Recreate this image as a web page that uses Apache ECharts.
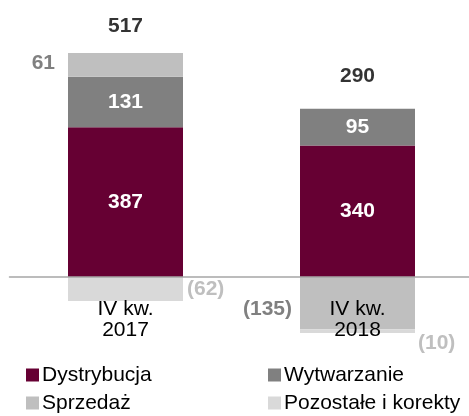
<!DOCTYPE html>
<html>
<head>
<meta charset="utf-8">
<script src="https://cdn.jsdelivr.net/npm/echarts@6/dist/echarts.min.js"></script>
<style>
html,body{margin:0;padding:0;background:#fff;}
#c{width:469px;height:416px;}
</style>
</head>
<body>
<div id="c"></div>
<script>
const categories = ['IV kw.\n2017', 'IV kw.\n2018'];
const dystrybucja = [387, 340];
const wytwarzanie = [131, 95];
const sprzedaz = [61, -135];
const pozostale = [-62, -10];
const totals = [517, 290];
const seriesNames = ['Dystrybucja', 'Wytwarzanie', 'Sprzedaż', 'Pozostałe i korekty'];

const FONT = '"Liberation Sans", Arial, sans-serif';
const FS = 21;
const chart = echarts.init(document.getElementById('c'));

function fmt(v) { return v < 0 ? '(' + Math.abs(v) + ')' : String(v); }

const insideLabel = {
  show: true, position: 'inside', color: '#fff', fontWeight: 'bold',
  fontSize: FS, fontFamily: FONT, formatter: p => fmt(p.value)
};

const sprzedazLabels = [
  { show: true, position: 'left', distance: 13, offset: [0, -2] },
  { show: true, position: 'left', distance: 8, offset: [0, 6] }
];
const pozostaleLabels = [
  { show: true, position: 'right', distance: 4, offset: [0, 0] },
  { show: true, position: 'right', distance: 3, offset: [0, 12] }
];
const totalLabelDistance = [16, 22];

const positiveTops = categories.map((_, i) =>
  [dystrybucja[i], wytwarzanie[i], sprzedaz[i], pozostale[i]]
    .filter(v => v > 0).reduce((a, b) => a + b, 0));

const legendPos = [[26, 364], [268, 364], [26, 392], [268, 392]];
const legends = seriesNames.map((n, i) => ({
  data: [n], left: legendPos[i][0], top: legendPos[i][1],
  itemWidth: 13, itemHeight: 13, icon: 'rect', padding: 0,
  textStyle: { fontSize: FS, lineHeight: 22, color: '#000', fontFamily: FONT, padding: [0, 0, 0, -2] }
}));

chart.setOption({
  animation: false,
  textStyle: { fontFamily: FONT },
  grid: { left: 9.5, width: 464, top: 45, bottom: 81, containLabel: false, outerBoundsMode: 'none' },
  legend: legends,
  xAxis: {
    type: 'category', data: categories,
    offset: -58,
    axisTick: { show: false },
    axisLine: { show: true, onZero: false, lineStyle: { color: '#a6a6a6', width: 1.5 } },
    axisLabel: { color: '#000', fontSize: FS, lineHeight: 21, margin: 22, fontFamily: FONT },
    z: 10
  },
  yAxis: {
    type: 'value', min: -150, max: 600, show: false, splitLine: { show: false }
  },
  series: [
    {
      name: seriesNames[0], type: 'bar', stack: 'a', barWidth: 115,
      itemStyle: { color: '#660033' }, label: insideLabel,
      data: dystrybucja
    },
    {
      name: seriesNames[1], type: 'bar', stack: 'a', barWidth: 115,
      itemStyle: { color: '#808080' }, label: insideLabel,
      data: wytwarzanie
    },
    {
      name: seriesNames[2], type: 'bar', stack: 'a', barWidth: 115,
      itemStyle: { color: '#bfbfbf' },
      label: { color: '#808080', fontWeight: 'bold', fontSize: FS, fontFamily: FONT, formatter: p => fmt(p.value) },
      data: sprzedaz.map((v, i) => ({ value: v, label: sprzedazLabels[i] }))
    },
    {
      name: seriesNames[3], type: 'bar', stack: 'a', barWidth: 115,
      itemStyle: { color: '#d9d9d9' },
      label: { color: '#bfbfbf', fontWeight: 'bold', fontSize: FS, fontFamily: FONT, formatter: p => fmt(p.value) },
      data: pozostale.map((v, i) => ({ value: v, label: pozostaleLabels[i] }))
    },
    {
      name: 'Suma', type: 'scatter', symbolSize: 0, silent: true,
      data: positiveTops.map((v, i) => ({ value: v, label: { distance: totalLabelDistance[i] } })),
      label: {
        show: true, position: 'top', color: '#000', fontWeight: 'bold',
        fontSize: FS, fontFamily: FONT,
        formatter: p => String(totals[p.dataIndex])
      },
      z: 20
    }
  ]
});
</script>
</body>
</html>
